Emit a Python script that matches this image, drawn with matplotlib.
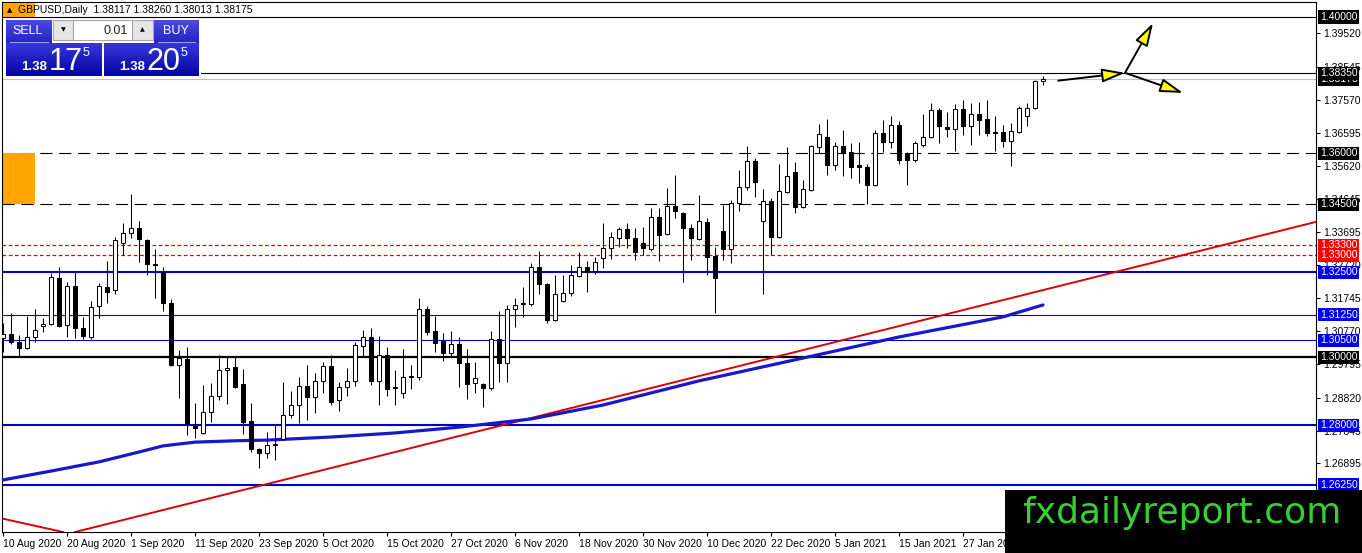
import numpy as np
import matplotlib
matplotlib.use('Agg')
import matplotlib.pyplot as plt
from matplotlib.patches import Rectangle, FancyArrowPatch
from matplotlib.colors import LinearSegmentedColormap

# fonts: Liberation Sans for text, DejaVu Sans as fallback for the arrow glyphs
plt.rcParams['font.family'] = ['Liberation Sans', 'DejaVu Sans']

# ---- data: GBPUSD daily candles (bar 0 = 10 Aug 2020) ----
opens = [1.3057, 1.3069, 1.3045, 1.3028, 1.3060, 1.3092, 1.3098, 1.3233, 1.3095, 1.3210,
         1.3086, 1.3060, 1.3151, 1.3207, 1.3198, 1.3336, 1.3365, 1.3380, 1.3345, 1.3274,
         1.3251, 1.3160, 1.2978, 1.2995, 1.2798, 1.2778, 1.2840, 1.2887, 1.2963, 1.2972,
         1.2922, 1.2813, 1.2731, 1.2719, 1.2743, 1.2760, 1.2831, 1.2860, 1.2916, 1.2884,
         1.2931, 1.2975, 1.2875, 1.2913, 1.2931, 1.3033, 1.3060, 1.2931, 1.3007, 1.2910,
         1.2895, 1.2942, 1.2942, 1.3142, 1.3078, 1.3048, 1.3013, 1.3039, 1.2984, 1.2925,
         1.2922, 1.2910, 1.3054, 1.2984, 1.3142, 1.3157, 1.3157, 1.3266, 1.3216, 1.3110,
         1.3166, 1.3189, 1.3239, 1.3266, 1.3254, 1.3292, 1.3321, 1.3351, 1.3377, 1.3351,
         1.3336, 1.3318, 1.3412, 1.3362, 1.3445, 1.3424, 1.3380, 1.3348, 1.3398, 1.3298,
         1.3371, 1.3318, 1.3454, 1.3501, 1.3577, 1.3401, 1.3459, 1.3354, 1.3486, 1.3545,
         1.3442, 1.3492, 1.3618, 1.3647, 1.3565, 1.3621, 1.3603, 1.3565, 1.3559, 1.3506,
         1.3659, 1.3633, 1.3683, 1.3600, 1.3580, 1.3624, 1.3647, 1.3727, 1.3677, 1.3671,
         1.3730, 1.3680, 1.3715, 1.3700, 1.3662, 1.3662, 1.3636, 1.3662, 1.3709, 1.3733,
         1.38117]
highs = [1.3101, 1.3130, 1.3066, 1.3122, 1.3142, 1.3116, 1.3248, 1.3266, 1.3221, 1.3251,
         1.3119, 1.3166, 1.3219, 1.3283, 1.3354, 1.3395, 1.3480, 1.3401, 1.3348, 1.3318,
         1.3266, 1.3172, 1.3022, 1.3031, 1.2866, 1.2919, 1.2925, 1.3007, 1.3001, 1.3001,
         1.2966, 1.2866, 1.2734, 1.2781, 1.2801, 1.2928, 1.2901, 1.2942, 1.2978, 1.2954,
         1.2986, 1.3007, 1.2928, 1.2969, 1.3045, 1.3080, 1.3086, 1.3063, 1.3031, 1.2963,
         1.3025, 1.2978, 1.3175, 1.3151, 1.3122, 1.3072, 1.3078, 1.3060, 1.3025, 1.2986,
         1.2925, 1.3078, 1.3136, 1.3154, 1.3175, 1.3207, 1.3277, 1.3313, 1.3219, 1.3242,
         1.3242, 1.3271, 1.3310, 1.3283, 1.3295, 1.3395, 1.3368, 1.3383, 1.3395, 1.3380,
         1.3383, 1.3439, 1.3439, 1.3498, 1.3536, 1.3427, 1.3392, 1.3477, 1.3410, 1.3324,
         1.3448, 1.3462, 1.3551, 1.3621, 1.3586, 1.3495, 1.3468, 1.3568, 1.3618, 1.3574,
         1.3521, 1.3624, 1.3686, 1.3700, 1.3633, 1.3668, 1.3630, 1.3633, 1.3568, 1.3668,
         1.3697, 1.3709, 1.3694, 1.3603, 1.3636, 1.3715, 1.3747, 1.3733, 1.3721, 1.3744,
         1.3756, 1.3747, 1.3750, 1.3756, 1.3709, 1.3683, 1.3689, 1.3739, 1.3747, 1.3815,
         1.38260]
lows = [1.3016, 1.3039, 1.3001, 1.3025, 1.3045, 1.3075, 1.3095, 1.3089, 1.3060, 1.3057,
        1.3054, 1.3054, 1.3116, 1.3160, 1.3186, 1.3301, 1.3351, 1.3280, 1.3242, 1.3175,
        1.3136, 1.2975, 1.2881, 1.2772, 1.2763, 1.2775, 1.2810, 1.2875, 1.2863, 1.2910,
        1.2775, 1.2722, 1.2675, 1.2704, 1.2699, 1.2757, 1.2822, 1.2807, 1.2816, 1.2837,
        1.2895, 1.2860, 1.2842, 1.2887, 1.2916, 1.3001, 1.2919, 1.2860, 1.2887, 1.2860,
        1.2881, 1.2907, 1.2934, 1.3066, 1.3016, 1.2989, 1.3001, 1.2913, 1.2878, 1.2895,
        1.2854, 1.2904, 1.2928, 1.2928, 1.3089, 1.3119, 1.3151, 1.3186, 1.3101, 1.3107,
        1.3163, 1.3180, 1.3236, 1.3192, 1.3245, 1.3263, 1.3289, 1.3324, 1.3321, 1.3286,
        1.3301, 1.3313, 1.3283, 1.3360, 1.3410, 1.3221, 1.3286, 1.3345, 1.3242, 1.3130,
        1.3286, 1.3277, 1.3430, 1.3492, 1.3471, 1.3186, 1.3301, 1.3351, 1.3483, 1.3424,
        1.3439, 1.3489, 1.3600, 1.3536, 1.3551, 1.3533, 1.3527, 1.3512, 1.3451, 1.3504,
        1.3603, 1.3615, 1.3568, 1.3506, 1.3574, 1.3618, 1.3645, 1.3630, 1.3647, 1.3606,
        1.3653, 1.3624, 1.3653, 1.3650, 1.3606, 1.3618, 1.3562, 1.3659, 1.3680, 1.3730,
        1.38013]
closes = [1.3069, 1.3045, 1.3028, 1.3060, 1.3080, 1.3098, 1.3236, 1.3092, 1.3210, 1.3086,
          1.3063, 1.3148, 1.3210, 1.3192, 1.3345, 1.3365, 1.3380, 1.3348, 1.3274, 1.3271,
          1.3160, 1.2978, 1.2998, 1.2804, 1.2792, 1.2840, 1.2887, 1.2963, 1.2969, 1.2913,
          1.2810, 1.2731, 1.2719, 1.2743, 1.2746, 1.2831, 1.2860, 1.2916, 1.2884, 1.2931,
          1.2975, 1.2869, 1.2913, 1.2931, 1.3036, 1.3060, 1.2931, 1.3007, 1.2907, 1.2913,
          1.2942, 1.2945, 1.3142, 1.3075, 1.3042, 1.3013, 1.3039, 1.2984, 1.2922, 1.2939,
          1.2910, 1.3054, 1.2984, 1.3142, 1.3154, 1.3160, 1.3266, 1.3216, 1.3110, 1.3186,
          1.3189, 1.3242, 1.3266, 1.3251, 1.3280, 1.3321, 1.3354, 1.3377, 1.3351, 1.3310,
          1.3321, 1.3412, 1.3360, 1.3445, 1.3430, 1.3380, 1.3351, 1.3401, 1.3295, 1.3233,
          1.3318, 1.3454, 1.3501, 1.3577, 1.3515, 1.3459, 1.3354, 1.3489, 1.3533, 1.3442,
          1.3495, 1.3621, 1.3656, 1.3565, 1.3621, 1.3600, 1.3559, 1.3559, 1.3506, 1.3659,
          1.3633, 1.3683, 1.3580, 1.3580, 1.3630, 1.3647, 1.3727, 1.3680, 1.3671, 1.3730,
          1.3680, 1.3715, 1.3697, 1.3659, 1.3659, 1.3636, 1.3665, 1.3733, 1.3733, 1.3812,
          1.38175]

# bottom time axis
date_bars = [0, 8, 16, 24, 32, 40, 48, 56, 64, 72, 80, 88, 96, 104, 112, 120]
date_labels = ['10 Aug 2020', '20 Aug 2020', '1 Sep 2020', '11 Sep 2020', '23 Sep 2020',
               '5 Oct 2020', '15 Oct 2020', '27 Oct 2020', '6 Nov 2020', '18 Nov 2020',
               '30 Nov 2020', '10 Dec 2020', '22 Dec 2020', '5 Jan 2021', '15 Jan 2021',
               '27 Jan 2021']

# right price axis
price_ticks = [1.39520, 1.38545, 1.37570, 1.36595, 1.35620, 1.34645, 1.33695, 1.32720,
               1.31745, 1.30770, 1.29795, 1.28820, 1.27845, 1.26895]

# horizontal levels drawn on the chart
solid_levels = [1.40000, 1.38350]
bid_level = 1.38175
dashed_levels = [1.36000, 1.34500]
red_levels = [1.33300, 1.33000]
blue_thick_levels = [1.32500, 1.28000, 1.26250]
blue_thin_levels = [1.31250, 1.30500]
pivot_level = 1.30000

# orange zone on the far left
zone_low, zone_high, zone_end_bar = 1.34500, 1.36000, 4.0

# moving average (bar, price)
ma_bars = [0, 6, 12, 17, 20, 24, 29, 33, 41, 49, 57, 66, 75, 87, 100, 112, 125, 130]
ma_values = [1.2640, 1.2666, 1.2693, 1.2722, 1.2740, 1.2751, 1.2755, 1.2757, 1.2766,
             1.2778, 1.2795, 1.2819, 1.2860, 1.2931, 1.2998, 1.3060, 1.3119, 1.3154]

# trend lines, two anchor points each (bar, price)
trend_up = [(32.5, 1.2625), (164.1, 1.3398)]
trend_down = [(-0.375, 1.2528), (7.5, 1.2487)]

# forecast arrows (bar, price)
arrow_start = (131.9, 1.3813)
arrow_knot = (140.25, 1.3836)
arrow_up_end = (143.75, 1.3982)
arrow_down_end = (147.5, 1.3777)

# ---- figure ----
W, H = 1362, 553
fig = plt.figure(figsize=(W / 100, H / 100), dpi=100)
fig.patch.set_facecolor('white')

# main chart area: x 2..1316 px, y 2..532 px
ax = fig.add_axes([2 / W, (H - 532) / H, 1314 / W, 530 / H])
ax.set_facecolor('white')
for s in ax.spines.values():
    s.set_color('black')
    s.set_linewidth(0.8)

o = np.array(opens)
h = np.array(highs)
l = np.array(lows)
c = np.array(closes)
x = np.arange(len(o))

# horizontal lines
for lv in solid_levels:
    ax.axhline(lv, color='black', lw=0.8, zorder=2)
ax.axhline(bid_level, color='#c0c0c0', lw=0.8, zorder=2)
for lv in dashed_levels:
    ax.axhline(lv, color='black', lw=0.8, dashes=(11, 6), zorder=2)
for lv in red_levels:
    ax.axhline(lv, color='#e00000', lw=0.9, dashes=(3, 2), zorder=2)
for lv in blue_thick_levels:
    ax.axhline(lv, color='#0000cc', lw=1.5, zorder=2)
for lv in blue_thin_levels:
    ax.axhline(lv, color='#0000cc', lw=0.8, zorder=2)
ax.axhline(pivot_level, color='black', lw=1.6, zorder=2)

# orange zone
ax.add_patch(Rectangle((-0.125, zone_low), zone_end_bar + 0.125, zone_high - zone_low,
                       facecolor='#ffa500', edgecolor='none', zorder=2))

# trend lines and moving average
ax.axline(trend_up[0], trend_up[1], color='#dd0000', lw=1.4, zorder=2.5)
ax.axline(trend_down[0], trend_down[1], color='#dd0000', lw=1.4, zorder=2.5)
ax.plot(ma_bars, ma_values, color='#1818c8', lw=2.3, solid_capstyle='round',
        solid_joinstyle='round', zorder=2.6)

# candles
up = c >= o
ax.vlines(x, l, h, color='black', lw=0.75, zorder=3)
bottom = np.minimum(o, c)
height = np.abs(c - o)
ax.bar(x[up], height[up], bottom=bottom[up], width=0.62, color='white',
       edgecolor='black', linewidth=0.75, zorder=4)
ax.bar(x[~up], height[~up], bottom=bottom[~up], width=0.62, color='black',
       edgecolor='black', linewidth=0.75, zorder=4)

# forecast arrows
for a, b in [(arrow_start, arrow_knot), (arrow_knot, arrow_up_end), (arrow_knot, arrow_down_end)]:
    arr = FancyArrowPatch(a, b, arrowstyle='-|>,head_length=1.4,head_width=0.42',
                          mutation_scale=10, facecolor='#ffff00', edgecolor='black',
                          lw=1.4, shrinkA=0, shrinkB=0, zorder=6)
    ax.add_patch(arr)

ax.set_xlim(-0.125, 164.125)
ax.set_ylim(1.2487, 1.40441)

# price axis on the right
ax.yaxis.tick_right()
ax.set_yticks(price_ticks)
ax.set_yticklabels(['%.5f' % t for t in price_ticks])
ax.tick_params(axis='y', length=3, width=0.8, pad=2, labelsize=7.5, colors='black')

# time axis at the bottom, labels start at the tick
ax.set_xticks(date_bars)
ax.set_xticklabels(date_labels)
for lbl in ax.get_xticklabels():
    lbl.set_horizontalalignment('left')
ax.tick_params(axis='x', length=3, width=0.8, pad=2, labelsize=7.5, colors='black')

# coloured price boxes on the right axis
box_levels = [(1.40000, 'black'), (bid_level, 'black'), (1.38350, 'black'),
              (1.36000, 'black'), (1.34500, 'black'), (1.33300, '#ff0000'),
              (1.33000, '#ff0000'), (1.32500, '#0000ee'), (1.31250, '#0000ee'),
              (1.30500, '#0000ee'), (pivot_level, 'black'), (1.28000, '#0000ee'),
              (1.26250, '#0000ee')]
for lv, col in box_levels:
    ax.text(1.003, lv, '%.5f' % lv, transform=ax.get_yaxis_transform(), ha='left',
            va='center', color='white', fontsize=7.5, clip_on=False, zorder=20,
            bbox=dict(boxstyle='square,pad=0.15', facecolor=col, edgecolor='none'))

# ---- overlay in pixel coordinates: title, trade panel, watermark ----
ov = fig.add_axes([0, 0, 1, 1], zorder=10)
ov.set_axis_off()
ov.patch.set_alpha(0)


def grad_box(x0, y0, w, hgt, top, bot):
    cmap = LinearSegmentedColormap.from_list('g', [top, bot])
    img = np.linspace(0, 1, 40).reshape(-1, 1)
    ov.imshow(img, cmap=cmap, extent=(x0, x0 + w, y0 + hgt, y0), aspect='auto',
              interpolation='bilinear', zorder=3)


# title
ov.add_patch(Rectangle((3, 3), 32, 14, facecolor='#ffa500', edgecolor='none', zorder=2))
ov.text(10, 10.5, '\u25b2', fontsize=5, ha='center', va='center', family='DejaVu Sans')
ov.text(18, 10, 'GBPUSD,Daily  1.38117 1.38260 1.38013 1.38175', fontsize=7.5,
        ha='left', va='center', color='black')

# one click trading panel
ov.add_patch(Rectangle((3, 18.5), 198, 58.5, facecolor='white', edgecolor='none', zorder=2))
grad_box(6, 20, 46, 23, '#4a4ae0', '#2424c4')
grad_box(154, 20, 45, 23, '#4a4ae0', '#2424c4')
grad_box(6, 43, 96, 33, '#3636dc', '#0505a0')
grad_box(104, 43, 95, 33, '#3636dc', '#0505a0')
ov.plot([10, 48], [42, 42], color='#9a9aea', lw=0.8, zorder=4)
ov.plot([158, 195], [42, 42], color='#9a9aea', lw=0.8, zorder=4)
ov.add_patch(Rectangle((53, 20), 20, 20, facecolor='#e6e6e6', edgecolor='#a8a8a8', lw=0.8, zorder=3))
ov.add_patch(Rectangle((73, 20), 59, 20, facecolor='white', edgecolor='#a8a8a8', lw=0.8, zorder=3))
ov.add_patch(Rectangle((132, 20), 21, 20, facecolor='#e6e6e6', edgecolor='#a8a8a8', lw=0.8, zorder=3))
ov.text(63, 30, '\u25bc', fontsize=4.5, ha='center', va='center', family='DejaVu Sans', zorder=5)
ov.text(142.5, 30, '\u25b2', fontsize=4.5, ha='center', va='center', family='DejaVu Sans', zorder=5)
ov.text(128, 30.5, '0.01', fontsize=9, ha='right', va='center', color='#222222', zorder=5)
ov.text(28, 31, 'SELL', fontsize=9, ha='center', va='center', color='white', zorder=5)
ov.text(176, 31, 'BUY', fontsize=9, ha='center', va='center', color='white', zorder=5)
for x0, big in [(21, '17'), (119, '20')]:
    ov.text(x0, 70, '1.38', fontsize=9.5, fontweight='bold', ha='left', va='baseline',
            color='white', zorder=5)
    ov.text(x0 + 28, 70.5, big, fontsize=22, ha='left', va='baseline', color='white', zorder=5)
    ov.text(x0 + 62, 55.5, '5', fontsize=9, ha='left', va='baseline', color='white', zorder=5)

# watermark
ov.add_patch(Rectangle((1005, 490), W - 1005, H - 490, facecolor='black', edgecolor='none', zorder=6))
ov.text(1182, 523, 'fxdailyreport.com', fontsize=26, family='DejaVu Sans', ha='center',
        va='baseline', color='#35d035', zorder=7)

ov.set_xlim(0, W)
ov.set_ylim(H, 0)

fig.savefig('out.png', dpi=100)
